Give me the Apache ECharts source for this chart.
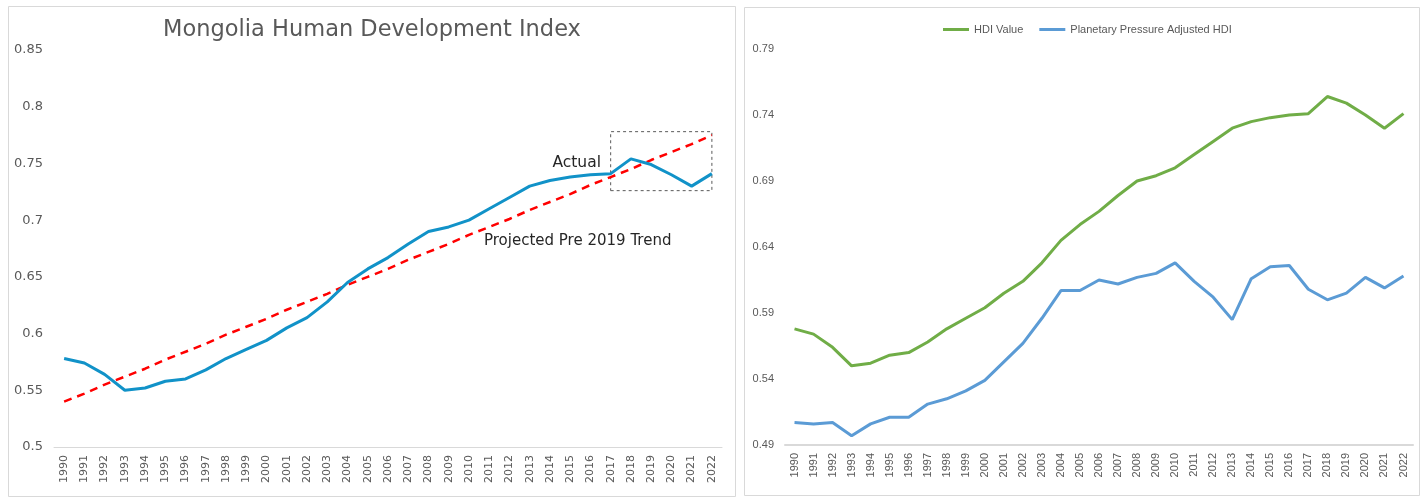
<!DOCTYPE html>
<html>
<head>
<meta charset="utf-8">
<script src="https://cdn.jsdelivr.net/npm/echarts@6/dist/echarts.min.js"></script>
<style>
html,body{margin:0;padding:0;background:#fff;}
#c{width:1428px;height:503px;}
</style>
</head>
<body>
<div id="c"></div>
<script>
var years = ['1990','1991','1992','1993','1994','1995','1996','1997','1998','1999','2000','2001','2002','2003','2004','2005','2006','2007','2008','2009','2010','2011','2012','2013','2014','2015','2016','2017','2018','2019','2020','2021','2022'];
var hdiValue = [0.578,0.574,0.564,0.550,0.552,0.558,0.560,0.568,0.578,0.586,0.594,0.605,0.614,0.628,0.645,0.657,0.667,0.679,0.690,0.694,0.700,0.710,0.720,0.730,0.735,0.738,0.740,0.741,0.754,0.749,0.740,0.730,0.741];
var pressureAdjusted = [0.507,0.506,0.507,0.497,0.506,0.511,0.511,0.521,0.525,0.531,0.539,0.553,0.567,0.586,0.607,0.607,0.615,0.612,0.617,0.620,0.628,0.614,0.602,0.585,0.616,0.625,0.626,0.608,0.600,0.605,0.617,0.609,0.618];
var projectedTrend = [0.540,0.547,0.555,0.562,0.569,0.577,0.584,0.591,0.599,0.606,0.613,0.621,0.628,0.635,0.643,0.650,0.657,0.665,0.672,0.679,0.687,0.694,0.701,0.709,0.716,0.723,0.731,0.738,0.745,0.753,0.760,0.767,0.775];
var leftTicks = {min:0.5, max:0.85, interval:0.05};
var rightTicks = {min:0.49, max:0.79, interval:0.05};

var fmt = function(v){ return String(parseFloat(Number(v).toFixed(2))); };
var chart = echarts.init(document.getElementById('c'), null, {renderer:'canvas'});
var gFont = 'DejaVu Sans';
var rFont = 'Liberation Sans';
chart.setOption({
  animation:false,
  backgroundColor:'#ffffff',
  graphic:[
    {type:'rect', shape:{x:8.5,y:6.5,width:727,height:490}, style:{fill:'none',stroke:'#d9d9d9',lineWidth:1}, z:-1},
    {type:'rect', shape:{x:744.5,y:7.5,width:675,height:488}, style:{fill:'none',stroke:'#d9d9d9',lineWidth:1}, z:-1},
    {type:'text', x:372, y:30, style:{text:'Mongolia Human Development Index', font:'22.5px "DejaVu Sans"', fill:'#595959', textAlign:'center', textVerticalAlign:'middle'}},
    {type:'text', x:601, y:163, style:{text:'Actual', font:'15.5px "DejaVu Sans"', fill:'#262626', textAlign:'right', textVerticalAlign:'middle'}},
    {type:'text', x:484, y:241, style:{text:'Projected Pre 2019 Trend', font:'15px "DejaVu Sans"', fill:'#262626', textAlign:'left', textVerticalAlign:'middle'}}
  ],
  legend:{
    data:['HDI Value','Planetary Pressure Adjusted HDI'],
    left:938, top:19, icon:'rect', itemWidth:26, itemHeight:3, itemGap:16,
    textStyle:{fontFamily:rFont, fontSize:11, color:'#595959'}
  },
  grid:[
    {left:54, right:706, top:50, bottom:56},
    {left:785, right:15, top:49, bottom:58}
  ],
  xAxis:[
    {type:'category', gridIndex:0, data:years, boundaryGap:true,
     axisLine:{lineStyle:{color:'#d9d9d9', width:1}}, axisTick:{show:false},
     axisLabel:{rotate:90, interval:0, fontFamily:gFont, fontSize:11, color:'#595959', margin:8}},
    {type:'category', gridIndex:1, data:years, boundaryGap:true,
     axisLine:{lineStyle:{color:'#d9d9d9', width:2}}, axisTick:{show:false},
     axisLabel:{rotate:90, interval:0, fontFamily:rFont, fontSize:11, color:'#595959', margin:8}}
  ],
  yAxis:[
    {type:'value', gridIndex:0, min:leftTicks.min, max:leftTicks.max, interval:leftTicks.interval,
     axisLine:{show:false}, axisTick:{show:false}, splitLine:{show:false},
     axisLabel:{formatter:fmt, fontFamily:gFont, fontSize:13, color:'#595959', margin:11}},
    {type:'value', gridIndex:1, min:rightTicks.min, max:rightTicks.max, interval:rightTicks.interval,
     axisLine:{show:false}, axisTick:{show:false}, splitLine:{show:false},
     axisLabel:{formatter:fmt, fontFamily:rFont, fontSize:11, color:'#595959', margin:11}}
  ],
  series:[
    {name:'Projected Pre 2019 Trend', type:'line', xAxisIndex:0, yAxisIndex:0, data:projectedTrend,
     symbol:'none', lineStyle:{color:'#ff0000', width:2.5, type:[8,6]}, z:3},
    {name:'Actual', type:'line', xAxisIndex:0, yAxisIndex:0, data:hdiValue,
     symbol:'none', lineStyle:{color:'#1192c8', width:3}, z:4,
     markArea:{silent:true, itemStyle:{color:'rgba(0,0,0,0)', borderColor:'#595959', borderWidth:1, borderType:[3,3]},
       data:[[{xAxis:'2017', yAxis:0.726},{xAxis:'2022', yAxis:0.778}]]}},
    {name:'HDI Value', type:'line', xAxisIndex:1, yAxisIndex:1, data:hdiValue,
     symbol:'none', itemStyle:{color:'#70ad47'}, lineStyle:{color:'#70ad47', width:3}},
    {name:'Planetary Pressure Adjusted HDI', type:'line', xAxisIndex:1, yAxisIndex:1, data:pressureAdjusted,
     symbol:'none', itemStyle:{color:'#5b9bd5'}, lineStyle:{color:'#5b9bd5', width:3}}
  ]
});
</script>
</body>
</html>
